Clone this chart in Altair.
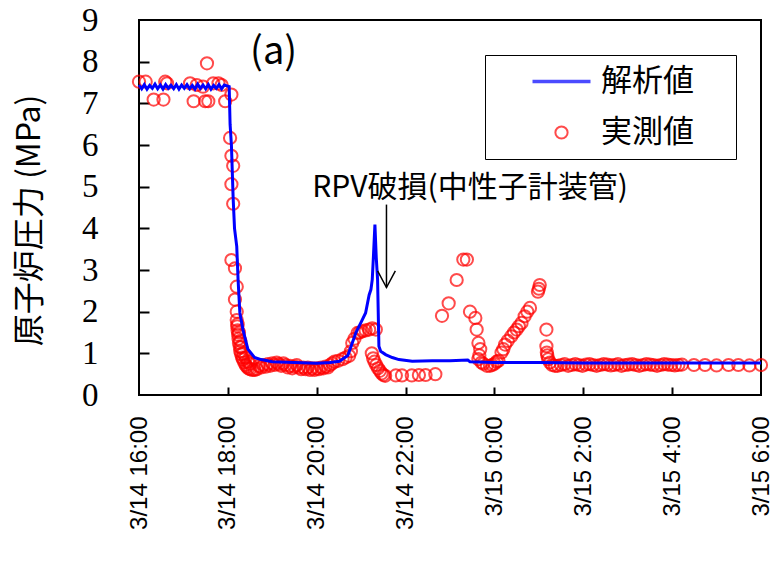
import json
import pandas as pd
import altair as alt

# ---------------- data ----------------
TICK_HOURS = [0, 2, 4, 6, 8, 10, 12, 14]          # hours after 3/14 16:00
TICK_LABELS = ["3/14 16:00", "3/14 18:00", "3/14 20:00", "3/14 22:00",
               "3/15 0:00", "3/15 2:00", "3/15 4:00", "3/15 6:00"]
Y_TICKS = [0, 1, 2, 3, 4, 5, 6, 7, 8, 9]
SERIES = ["解析値", "実測値"]

# analysis (blue line): hours after 3/14 16:00, pressure MPa
calc_h = [0.00, 0.06, 0.12, 0.18, 0.24, 0.30, 0.36, 0.42, 0.48, 0.54, 0.60, 0.66,
          0.72, 0.78, 0.84, 0.90, 0.96, 1.02, 1.08, 1.14, 1.20, 1.26, 1.32, 1.38,
          1.44, 1.50, 1.56, 1.62, 1.68, 1.74, 1.80, 1.86, 1.92, 1.98,
          2.03, 2.05, 2.08, 2.12, 2.15, 2.20, 2.23, 2.27, 2.34, 2.45, 2.60, 2.75,
          3.00, 3.50, 4.00, 4.30, 4.51, 4.70, 4.88, 5.00, 5.10, 5.18, 5.22, 5.25,
          5.28, 5.31, 5.34, 5.37, 5.40, 5.44, 5.55, 5.70, 5.85, 6.15, 6.60, 7.00,
          7.40, 7.45, 8.00, 9.00, 10.00, 11.00, 12.00, 13.00, 14.00]
calc_p = [7.44, 7.35, 7.45, 7.34, 7.43, 7.36, 7.46, 7.35, 7.44, 7.34, 7.45, 7.36,
          7.43, 7.35, 7.45, 7.34, 7.44, 7.36, 7.45, 7.35, 7.43, 7.34, 7.46, 7.36,
          7.44, 7.35, 7.45, 7.34, 7.43, 7.36, 7.45, 7.35, 7.44, 7.42,
          7.40, 6.50, 6.00, 4.70, 4.00, 3.57, 2.77, 1.97, 1.57, 1.10, 0.90, 0.85,
          0.80, 0.78, 0.76, 0.78, 0.81, 0.95, 1.49, 1.75, 1.97, 2.40, 2.53, 2.77,
          3.40, 4.09, 3.30, 2.77, 1.17, 1.05, 0.97, 0.90, 0.85, 0.81, 0.82, 0.82,
          0.84, 0.80, 0.78, 0.78, 0.77, 0.77, 0.77, 0.77, 0.77]

# measured (red circles)
meas_h = (
    [0.00, 0.15, 0.33, 0.55, 0.59, 0.63, 1.15, 1.23, 1.30, 1.44, 1.49, 1.53, 1.56,
     1.67, 1.79, 1.86, 1.94, 2.08]
    + [2.05, 2.08, 2.12, 2.08, 2.12, 2.08, 2.16, 2.20, 2.16, 2.20]
    + [2.20, 2.21, 2.22, 2.22, 2.23, 2.24, 2.25, 2.25, 2.27, 2.28, 2.28, 2.30, 2.30,
       2.32, 2.34, 2.35, 2.37, 2.40, 2.40, 2.43, 2.45, 2.46, 2.50, 2.50, 2.55, 2.60, 2.65]
    + [2.70, 2.75, 2.80, 2.85, 2.90, 2.95, 3.00, 3.05, 3.10, 3.15, 3.20, 3.25, 3.30,
       3.35, 3.40, 3.45, 3.50, 3.55, 3.60, 3.65, 3.70, 3.75, 3.80, 3.85, 3.90, 3.95,
       4.00, 4.05, 4.10, 4.15, 4.20, 4.25, 4.30, 4.35]
    + [4.40, 4.48, 4.58, 4.65, 4.73, 4.77, 4.80, 4.85, 4.92, 4.97, 5.03, 5.10, 5.18,
       5.25, 5.33]
    + [5.24, 5.27, 5.30, 5.34, 5.38, 5.42, 5.46, 5.50, 5.54, 5.78, 5.92, 6.14, 6.30,
       6.45, 6.67]
    + [6.82, 6.97, 7.15, 7.30, 7.38, 7.45, 7.57, 7.60, 7.64, 7.68, 7.66, 7.64, 7.71,
       7.75, 7.83, 7.90, 7.95, 8.00, 8.05, 8.09, 8.16, 8.20, 8.24, 8.30, 8.38, 8.44,
       8.50, 8.55, 8.61, 8.68, 8.74, 8.80, 8.98, 9.00, 9.02]
    + [9.17, 9.17, 9.18, 9.19, 9.21, 9.25, 9.30, 9.36]
    + [9.42, 9.50, 9.58, 9.66, 9.74, 9.82, 9.90, 9.98, 10.06, 10.14, 10.22, 10.30,
       10.38, 10.46, 10.54, 10.62, 10.70, 10.78, 10.86, 10.94, 11.02, 11.10, 11.18,
       11.26, 11.34, 11.42, 11.50, 11.58, 11.66, 11.74, 11.82, 11.90, 11.98, 12.06,
       12.14, 12.22]
    + [12.49, 12.74, 13.00, 13.27, 13.49, 13.74, 14.00]
)
meas_p = (
    [7.52, 7.52, 7.09, 7.09, 7.52, 7.48, 7.48, 7.05, 7.44, 7.40, 7.05, 7.96, 7.05,
     7.48, 7.48, 7.44, 7.05, 7.21]
    + [6.17, 5.74, 5.50, 5.06, 4.59, 3.24, 3.04, 2.60, 2.29, 2.00]
    + [1.80, 1.65, 1.70, 1.55, 1.45, 1.35, 1.25, 1.50, 1.15, 1.05, 1.30, 0.98, 1.15,
       0.90, 0.85, 1.00, 0.78, 0.72, 0.90, 0.68, 0.80, 0.64, 0.62, 0.75, 0.60, 0.60, 0.62]
    + [0.70, 0.66, 0.72, 0.68, 0.74, 0.70, 0.76, 0.72, 0.78, 0.74, 0.70, 0.76, 0.72,
       0.66, 0.70, 0.64, 0.68, 0.72, 0.66, 0.62, 0.66, 0.62, 0.66, 0.60, 0.64, 0.60,
       0.64, 0.62, 0.66, 0.64, 0.68, 0.66, 0.72, 0.76]
    + [0.80, 0.82, 0.86, 0.90, 0.94, 1.05, 1.25, 1.35, 1.49, 1.50, 1.53, 1.55, 1.57,
       1.60, 1.57]
    + [1.00, 0.88, 0.80, 0.72, 0.64, 0.58, 0.52, 0.48, 0.46, 0.47, 0.47, 0.47, 0.48,
       0.48, 0.50]
    + [1.90, 2.20, 2.76, 3.25, 3.25, 2.00, 1.85, 1.57, 1.25, 1.10, 0.95, 0.86, 0.78,
       0.75, 0.70, 0.70, 0.72, 0.75, 0.80, 0.82, 1.02, 1.10, 1.21, 1.30, 1.41, 1.50,
       1.57, 1.65, 1.73, 1.89, 2.00, 2.09, 2.48, 2.55, 2.64]
    + [1.57, 1.17, 1.02, 0.95, 0.86, 0.78, 0.72, 0.70]
    + [0.70, 0.72, 0.74, 0.70, 0.72, 0.74, 0.72, 0.70, 0.73, 0.74,
       0.72, 0.70, 0.72, 0.74, 0.73, 0.71, 0.72, 0.74, 0.70, 0.72,
       0.73, 0.74, 0.72, 0.70, 0.72, 0.74, 0.73, 0.72, 0.70, 0.72,
       0.74, 0.73, 0.72, 0.71, 0.72, 0.73]
    + [0.72, 0.72, 0.71, 0.72, 0.72, 0.71, 0.72]
)

# annotations
ann_text = ["RPV破損(中性子計装管)"]
ann_h = [3.90]
ann_p = [4.76]
panel_text = ["(a)"]
panel_h = [3.03]
panel_p = [8.21]
arrow_shaft_h = [5.57]
arrow_shaft_p = [4.57]
arrow_shaft_p2 = [2.58]
arrow_head_h = [5.37, 5.57, 5.77]
arrow_head_p = [2.98, 2.58, 2.98]
arrow_head_o = [0, 1, 2]

# ---------------- frames ----------------
calc = pd.DataFrame({"h": calc_h, "p": calc_p, "series": SERIES[0]})
meas = pd.DataFrame({"h": meas_h, "p": meas_p, "series": SERIES[1]})
ann = pd.DataFrame({"h": ann_h, "p": ann_p, "t": ann_text})
pan = pd.DataFrame({"h": panel_h, "p": panel_p, "t": panel_text})
shaft = pd.DataFrame({"h": arrow_shaft_h, "p": arrow_shaft_p, "p2": arrow_shaft_p2})
head = pd.DataFrame({"h": arrow_head_h, "p": arrow_head_p, "o": arrow_head_o})

XS = alt.Scale(domain=[0, 14], nice=False, zero=False)
YS = alt.Scale(domain=[0, 9], nice=False, zero=False)

label_expr = json.dumps(TICK_LABELS, ensure_ascii=False) + "[round(datum.value/2)]"

x_main = alt.Axis(values=TICK_HOURS, labelExpr=label_expr, labelAngle=270,
                  labelPadding=21, ticks=False, tickSize=0, domain=False, grid=False,
                  labelFont="Liberation Sans", labelFontSize=24, labelColor="black",
                  labelFlush=False, labelOverlap=False, labelBound=False,
                  title=None, orient="bottom")
y_main = alt.Axis(values=Y_TICKS, ticks=False, tickSize=0, domain=False, grid=False,
                  labelFont="Liberation Serif", labelFontSize=33, labelColor="black",
                  labelPadding=41, labelFlush=False, labelOverlap=False,
                  title="原子炉圧力 (MPa)", titleFont="Noto Sans CJK JP",
                  titleFontSize=32, titleFontWeight="normal", titleColor="black",
                  titleX=-110, titleY=200, titleAngle=270, titleAlign="center",
                  titleBaseline="middle", orient="left")
x_ticks = alt.Axis(values=TICK_HOURS[1:-1], labels=False, ticks=True, tickSize=8,
                   tickWidth=2, tickColor="black", domain=False, grid=False,
                   offset=-8, title=None, orient="bottom")
y_ticks = alt.Axis(values=Y_TICKS[1:-1], labels=False, ticks=True, tickSize=10,
                   tickWidth=2, tickColor="black", domain=False, grid=False,
                   offset=-10, title=None, orient="left")

# trailing ideographic space kept (zero-width char stops trimming) -> right margin in box
legend = alt.Legend(title=None, orient="none", legendX=346, legendY=35,
                    strokeColor="black", padding=11, symbolOffset=50,
                    labelFont="Noto Sans CJK JP", labelFontSize=31, labelColor="black",
                    rowPadding=19, labelOffset=24,
                    labelExpr="datum.label + '\u3000\u200b'")

color = alt.Color("series:N", scale=alt.Scale(domain=SERIES, range=["#0000ff", "#ff0000"]),
                  legend=legend)
shape = alt.Shape("series:N",
                  scale=alt.Scale(domain=SERIES, range=["M-2.9,0H2.9", "circle"]),
                  legend=legend)
size = alt.Size("series:N", scale=alt.Scale(domain=SERIES, range=[400, 150]),
                legend=legend)
swidth = alt.StrokeWidth("series:N", scale=alt.Scale(domain=SERIES, range=[3.5, 2.0]),
                         legend=legend)

points = alt.Chart(meas).mark_point(filled=False).encode(
    x=alt.X("h:Q", scale=XS, axis=x_ticks),
    y=alt.Y("p:Q", scale=YS, axis=y_ticks),
    color=color, shape=shape, size=size, strokeWidth=swidth,
)

line = alt.Chart(calc).mark_line(strokeWidth=3).encode(
    x=alt.X("h:Q", scale=XS, axis=x_main),
    y=alt.Y("p:Q", scale=YS, axis=y_main),
    color=color,
)

txt = alt.Chart(ann).mark_text(align="left", baseline="alphabetic", font="Noto Sans CJK JP",
                               fontSize=30, color="black").encode(
    x=alt.X("h:Q", scale=XS, axis=None), y=alt.Y("p:Q", scale=YS, axis=None), text="t:N")

ptxt = alt.Chart(pan).mark_text(align="center", baseline="middle", font="Noto Sans CJK JP",
                                fontSize=38, color="black").encode(
    x=alt.X("h:Q", scale=XS, axis=None), y=alt.Y("p:Q", scale=YS, axis=None), text="t:N")

shaft_c = alt.Chart(shaft).mark_rule(color="black", strokeWidth=1.5).encode(
    x=alt.X("h:Q", scale=XS, axis=None), y=alt.Y("p:Q", scale=YS, axis=None), y2="p2:Q")

head_c = alt.Chart(head).mark_line(color="black", strokeWidth=1.5).encode(
    x=alt.X("h:Q", scale=XS, axis=None), y=alt.Y("p:Q", scale=YS, axis=None), order="o:Q")

chart = alt.layer(points, line, txt, ptxt, shaft_c, head_c).resolve_scale(
    x="independent", y="independent"
).properties(
    width=622, height=375, autosize="none",
    padding={"left": 131, "top": 12, "right": 9, "bottom": 159},
    background="white",
).configure_view(stroke="black", strokeWidth=2)

chart.save("out.html", embed_options={"renderer": "svg", "actions": False})
